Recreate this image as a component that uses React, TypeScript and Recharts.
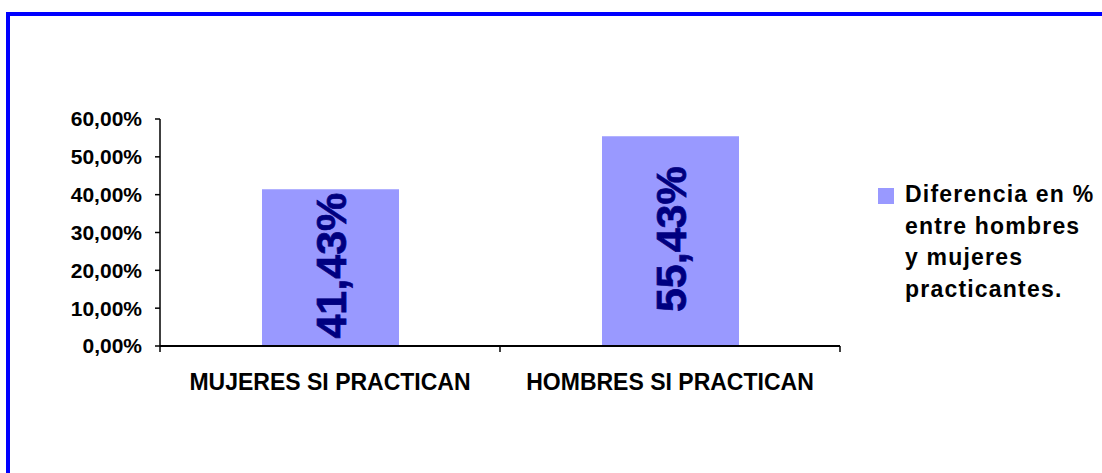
import React from 'react';
import { BarChart, Bar, XAxis, YAxis, LabelList } from 'recharts';

const categories = ['MUJERES SI PRACTICAN', 'HOMBRES SI PRACTICAN'];
const values = [41.43, 55.43];
const yTicks = [0, 10, 20, 30, 40, 50, 60];
const seriesName = 'Diferencia en % entre hombres y mujeres practicantes.';
const legendLines = ['Diferencia en %', 'entre hombres', 'y mujeres', 'practicantes.'];

const data = categories.map((c, i) => ({ name: c, value: values[i] }));

const FONT = 'Arial, "Liberation Sans", sans-serif';
const BAR_COLOR = '#9999FF';

const fmt = (v: number) => v.toFixed(2).replace('.', ',') + '%';

const XTick = (props: any) => {
  const { x, y, payload, index, width, visibleTicksCount } = props;
  const band = (width || 680) / (visibleTicksCount || 2);
  const left = x - band / 2;
  return (
    <g>
      <line x1={left} y1={y} x2={left} y2={y + 6} stroke="#000" strokeWidth={1.5} />
      {index === (visibleTicksCount || 2) - 1 && (
        <line x1={x + band / 2} y1={y} x2={x + band / 2} y2={y + 6} stroke="#000" strokeWidth={1.5} />
      )}
      <text x={x} y={y + 44} textAnchor="middle" fontFamily={FONT} fontWeight="bold" fontSize={23} fill="#000">
        {payload.value}
      </text>
    </g>
  );
};

const BarLabel = (props: any) => {
  const { x, y, width, height, value } = props;
  const cx = x + width / 2 + 1;
  const cy = y + height / 2 - 2;
  return (
    <text
      x={cx}
      y={cy}
      transform={`rotate(-90 ${cx} ${cy})`}
      textAnchor="middle"
      dominantBaseline="central"
      style={{ fontFamily: FONT, fontWeight: 700, fontSize: 43 }}
      fill="#000080"
      stroke="#000080"
      strokeWidth={0.7}
    >
      {fmt(value)}
    </text>
  );
};

export default function App() {
  return (
    <div style={{ position: 'absolute', left: 0, top: 0, width: 1102, height: 473, background: '#fff', overflow: 'hidden' }}>
      <div style={{ position: 'absolute', left: 6, top: 12, width: 1300, height: 700, border: '4px solid #0000FF', boxSizing: 'border-box' }} />
      <div style={{ position: 'absolute', left: 0, top: 0 }}>
        <BarChart width={1102} height={473} data={data} margin={{ top: 119, right: 262, bottom: 67, left: 0 }}>
          <XAxis
            dataKey="name"
            axisLine={{ stroke: '#000', strokeWidth: 2 }}
            tickLine={false}
            tickSize={0}
            tickMargin={0}
            height={60}
            tick={<XTick />}
            interval={0}
          />
          <YAxis
            domain={[0, 60]}
            ticks={yTicks}
            interval={0}
            width={160}
            axisLine={{ stroke: '#000', strokeWidth: 1.5 }}
            tickLine={{ stroke: '#000', strokeWidth: 1.5 }}
            tickSize={5}
            tickMargin={13}
            tickFormatter={fmt}
            tick={{ fontFamily: FONT, fontWeight: 'bold', fontSize: 21, fill: '#000' }}
          />
          <Bar dataKey="value" name={seriesName} fill={BAR_COLOR} barSize={137} isAnimationActive={false}>
            <LabelList dataKey="value" content={<BarLabel />} />
          </Bar>
        </BarChart>
      </div>
      <div style={{ position: 'absolute', left: 878, top: 186, width: 224, fontFamily: FONT }}>
        <div style={{ position: 'absolute', left: 0, top: 2, width: 16, height: 16, background: BAR_COLOR }} />
        <div style={{ position: 'absolute', left: 27, top: -7, fontWeight: 'bold', fontSize: 23, lineHeight: '31.7px', letterSpacing: 1.2, color: '#000', whiteSpace: 'nowrap' }}>
          {legendLines.map((l, i) => (
            <div key={i}>{l}</div>
          ))}
        </div>
      </div>
    </div>
  );
}
